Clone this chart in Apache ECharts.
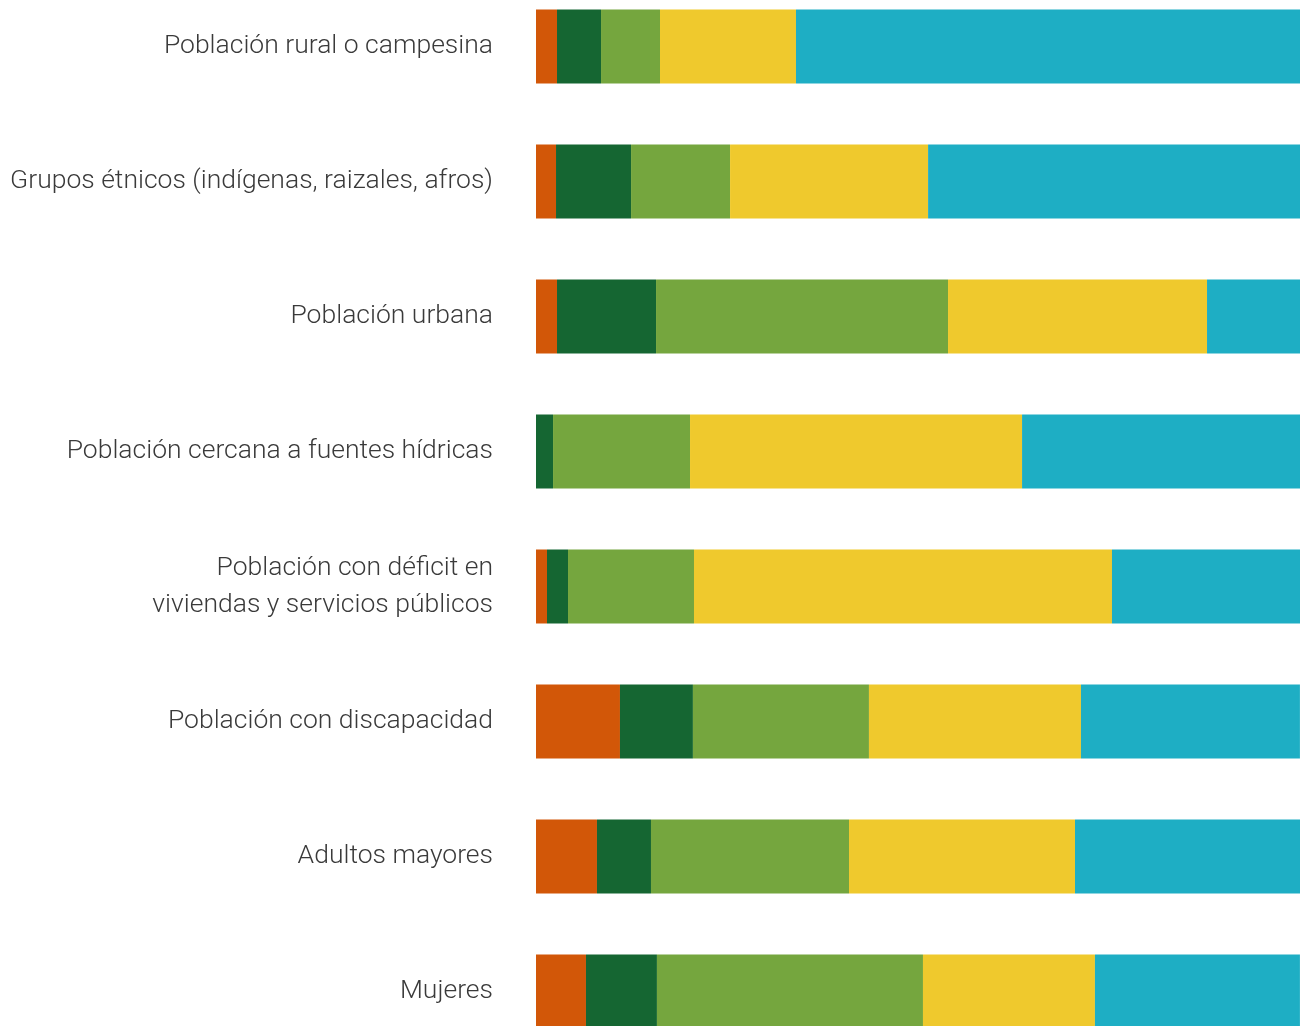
<!DOCTYPE html>
<html>
<head>
<meta charset="utf-8">
<script src="https://cdn.jsdelivr.net/npm/echarts@6/dist/echarts.min.js"></script>
<style>
html,body{margin:0;padding:0;background:#fff;overflow:hidden;}
#chart{position:absolute;left:0;top:-21.5px;width:1303px;height:1100px;}
</style>
</head>
<body>
<div id="chart"></div>
<script>
const categories = [
  "Población rural o campesina",
  "Grupos étnicos (indígenas, raizales, afros)",
  "Población urbana",
  "Población cercana a fuentes hídricas",
  "Población con déficit en\nviviendas y servicios públicos",
  "Población con discapacidad",
  "Adultos mayores",
  "Mujeres"
];
const seriesNames = ["s1", "s2", "s3", "s4", "s5"];
const s1 = [2.75, 2.62, 2.75, 0, 1.44, 10.99, 7.98, 6.54];
const s2 = [5.76, 9.82, 12.96, 2.23, 2.75, 9.55, 7.07, 9.29];
const s3 = [7.72, 12.96, 38.22, 17.93, 16.49, 23.04, 25.92, 34.82];
const s4 = [17.80, 25.92, 33.90, 43.46, 54.71, 27.75, 29.58, 22.51];
const s5 = [65.97, 48.69, 12.17, 36.39, 24.61, 28.66, 29.45, 26.83];
const colors = ["#D25708", "#156632", "#75A63E", "#EFC92D", "#1EAEC4"];

const allData = [s1, s2, s3, s4, s5];
const chart = echarts.init(document.getElementById('chart'), null, {renderer: 'canvas'});
chart.setOption({
  backgroundColor: '#ffffff',
  animation: false,
  grid: {left: 536, right: 3, top: 0, height: 1080, containLabel: false},
  xAxis: {
    type: 'value', min: 0, max: 100,
    show: false
  },
  yAxis: {
    type: 'category', data: categories, inverse: true,
    axisLine: {show: false}, axisTick: {show: false}, splitLine: {show: false},
    axisLabel: {
      margin: 43, color: '#3a3a3a', fontSize: 26.5, fontWeight: 300,
      fontFamily: 'Roboto, "Noto Sans", sans-serif', lineHeight: 37, align: 'right'
    }
  },
  series: allData.map((d, i) => ({
    name: seriesNames[i], type: 'bar', stack: 'total', data: d,
    barWidth: 74, itemStyle: {color: colors[i]}
  }))
});
</script>
</body>
</html>
